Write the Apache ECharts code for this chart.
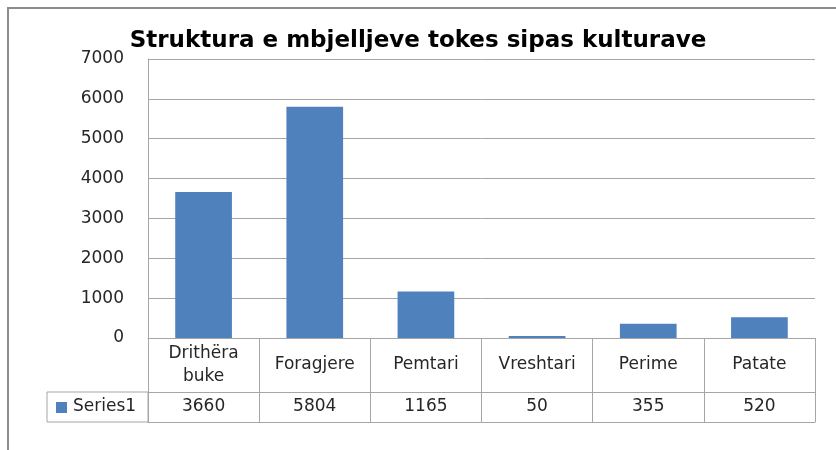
<!DOCTYPE html>
<html>
<head>
<meta charset="utf-8">
<script src="https://cdn.jsdelivr.net/npm/echarts@6/dist/echarts.min.js"></script>
<style>
  html, body { margin: 0; padding: 0; background: #fff; }
  #chart { width: 836px; height: 450px; }
</style>
</head>
<body>
<div id="chart"></div>
<script>
const titleText = 'Struktura e mbjelljeve tokes sipas kulturave'
const seriesName = 'Series1'
const categories = ['Drithëra\nbuke', 'Foragjere', 'Pemtari', 'Vreshtari', 'Perime', 'Patate']
const values = [3660, 5804, 1165, 50, 355, 520]

const barColor = '#4F81BD'
const lineColor = '#a6a6a6'
const textColor = '#262626'
const font = '"DejaVu Sans", sans-serif'

// grid box (table hangs below it)
const gridLeft = 148, gridRight = 21, gridTop = 59, gridBottom = 112
const headRow = 54, valueRow = 30
const tableTop = 450 - gridBottom

const chart = echarts.init(document.getElementById('chart'))

chart.setOption({
    animation: false,
    title: {
        text: titleText,
        left: 'center',
        top: 25,
        textStyle: { fontFamily: font, fontSize: 23, fontWeight: 'bold', color: '#000' }
    },
    grid: { left: gridLeft, right: gridRight, top: gridTop, bottom: gridBottom },
    xAxis: [
        {
            type: 'category',
            data: categories,
            axisLine: { lineStyle: { color: lineColor } },
            axisTick: { show: true, length: headRow, lineStyle: { color: lineColor } },
            axisLabel: {
                margin: headRow / 2, verticalAlign: 'middle', interval: 0,
                fontFamily: font, fontSize: 17, lineHeight: 23, color: textColor
            }
        },
        {
            type: 'category',
            position: 'bottom',
            offset: headRow,
            data: values.map(String),
            axisLine: { lineStyle: { color: lineColor } },
            axisTick: { show: true, length: valueRow, lineStyle: { color: lineColor } },
            axisLabel: {
                margin: valueRow / 2, verticalAlign: 'middle', interval: 0,
                fontFamily: font, fontSize: 17, color: textColor
            }
        },
        {
            type: 'category',
            position: 'bottom',
            offset: headRow + valueRow,
            data: categories,
            axisLine: { lineStyle: { color: lineColor } },
            axisTick: { show: false },
            axisLabel: { show: false }
        }
    ],
    yAxis: {
        type: 'value',
        min: 0,
        max: 7000,
        interval: 1000,
        axisLine: { show: true, lineStyle: { color: lineColor } },
        axisTick: { show: false },
        splitLine: { lineStyle: { color: lineColor } },
        axisLabel: {
            margin: 24, formatter: v => String(v),
            fontFamily: font, fontSize: 17, color: textColor
        }
    },
    series: [{
        name: seriesName,
        type: 'bar',
        data: values,
        barWidth: '51%',
        itemStyle: { color: barColor }
    }],
    graphic: [
        // outer chart frame (runs off the picture on the right and bottom)
        {
            type: 'rect', silent: true,
            shape: { x: 8, y: 8, width: 900, height: 500 },
            style: { fill: null, stroke: '#8c8c8c', lineWidth: 2 }
        },
        // legend key cell of the data table
        {
            type: 'rect', silent: true,
            shape: { x: 47, y: tableTop + headRow, width: gridLeft - 47, height: valueRow },
            style: { fill: null, stroke: lineColor, lineWidth: 1 }
        },
        {
            type: 'rect', silent: true,
            shape: { x: 56, y: tableTop + headRow + 10, width: 11, height: 11 },
            style: { fill: barColor }
        },
        {
            type: 'text', silent: true,
            x: 73, y: tableTop + headRow + valueRow / 2,
            style: {
                text: seriesName, fontFamily: font, fontSize: 17, fill: textColor,
                verticalAlign: 'middle'
            }
        }
    ]
})
</script>
</body>
</html>
